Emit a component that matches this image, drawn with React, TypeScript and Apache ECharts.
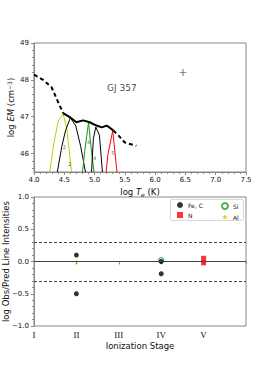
import React, { useEffect, useRef } from "react";
import * as echarts from "echarts";

// ---- Top panel: emission measure distribution ----
const emDashedLow: number[][] = [[4.0, 48.14], [4.15, 48.0], [4.29, 47.8], [4.37, 47.5], [4.48, 47.1]];
const emSolid: number[][] = [[4.48, 47.1], [4.59, 46.99], [4.7, 46.85], [4.81, 46.9], [4.92, 46.85], [5.03, 46.76], [5.12, 46.71], [5.2, 46.76], [5.31, 46.63]];
const emDashedHigh: number[][] = [[5.31, 46.63], [5.4, 46.48], [5.5, 46.3], [5.69, 46.21]];
const curveAlII: number[][] = [[4.26, 45.5], [4.33, 46.3], [4.4, 46.88], [4.48, 47.08], [4.54, 46.69], [4.58, 46.1], [4.62, 45.5]];
const curveBlackII: number[][] = [[4.385, 45.5], [4.46, 46.2], [4.52, 46.62], [4.6, 46.97], [4.69, 46.75], [4.77, 46.2], [4.85, 45.5]];
const curveSiIV: number[][] = [[4.8, 45.5], [4.84, 46.1], [4.9, 46.84], [4.94, 46.2], [4.99, 45.5]];
const curveBlackIV: number[][] = [[4.95, 45.5], [4.98, 46.4], [5.02, 46.72], [5.08, 46.5], [5.13, 45.5]];
const curveNV: number[][] = [[5.19, 45.5], [5.22, 45.97], [5.3, 46.62], [5.37, 45.5]];
const stageLabels: (number | string)[][] = [[4.5, 46.17, "2"], [4.59, 45.73, "2"], [4.9, 46.32, "4"], [5.0, 45.89, "4"], [5.3, 46.02, "5"]];
const crossPoint: number[][] = [[6.46, 48.2]];
const starName: (number | string)[][] = [[5.45, 47.78, "GJ 357"]];
const topYTicks = [46, 47, 48, 49];

// ---- Bottom panel: obs/pred ratios ----
const stageNames = ["I", "II", "III", "IV", "V", ""];
const feC: number[][] = [[1, 0.1], [1, -0.5], [3, 0.0], [3, -0.19]];
const nV: number[][] = [[4, 0.05], [4, -0.02]];
const si: number[][] = [[3, 0.02]];
const al: number[][] = [[1, 0.0]];
const refLines = [0.3, 0.0, -0.3];

const SANS = "DejaVu Sans";
const AX = "#888";
const TXT = "#111";
const STAR = "path://M50,0 L61,35 L98,35 L68,57 L79,91 L50,70 L21,91 L32,57 L2,35 L39,35 Z";
const CROSS = "path://M0,4.5 L10,4.5 L10,5.5 L0,5.5 Z M4.5,0 L5.5,0 L5.5,10 L4.5,10 Z";

function minorVals(min: number, max: number, step: number, major: number): number[] {
  const out: number[] = [];
  const n = Math.round((max - min) / step);
  for (let i = 0; i <= n; i++) {
    const v = +(min + i * step).toFixed(3);
    if (Math.abs(v / major - Math.round(v / major)) > 1e-6) out.push(v);
  }
  return out;
}

export default function App() {
  const ref = useRef<HTMLDivElement>(null);
  useEffect(() => {
    if (!ref.current) return;
    const chart = echarts.init(ref.current, undefined, { renderer: "svg" });
    const curve = (data: number[][], color: string) => ({
      type: "line", xAxisIndex: 0, yAxisIndex: 0, data, showSymbol: false, symbol: "none",
      lineStyle: { color, width: 1 }, z: 2,
    });
    const option: any = {
      animation: false,
      backgroundColor: "#fff",
      textStyle: { fontFamily: SANS },
      grid: [
        { left: 34, top: 43, width: 212, height: 129, show: true, borderColor: AX, borderWidth: 1, backgroundColor: "transparent", containLabel: false, outerBoundsMode: "none" },
        { left: 34, top: 197, width: 212, height: 129, show: true, borderColor: AX, borderWidth: 1, backgroundColor: "transparent", containLabel: false, outerBoundsMode: "none" },
      ],
      xAxis: [
        {
          type: "value", gridIndex: 0, min: 4, max: 7.5, interval: 0.5,
          axisLine: { lineStyle: { color: AX } },
          axisTick: { length: 3, lineStyle: { color: AX } },
          minorTick: { show: true, splitNumber: 5, length: 2, lineStyle: { color: AX } },
          splitLine: { show: false },
          axisLabel: { fontSize: 7, color: TXT, margin: 4, formatter: (v: number) => v.toFixed(1) },
          name: "{n|log }{i|T}{s|e}{n| (K)}", nameLocation: "middle", nameGap: 15, nameMoveOverlap: false,
          nameTextStyle: { rich: { n: { fontSize: 8.5, color: TXT }, i: { fontSize: 8.5, fontStyle: "italic", color: TXT }, s: { fontSize: 6, fontStyle: "italic", color: TXT, verticalAlign: "bottom", padding: [4, 0, 0, 0] } } },
        },
        {
          type: "value", gridIndex: 1, min: 0, max: 5, interval: 1,
          axisLine: { lineStyle: { color: AX } },
          axisTick: { length: 3, lineStyle: { color: AX } },
          splitLine: { show: false },
          axisLabel: { fontSize: 9, color: TXT, margin: 4, fontFamily: "Liberation Serif", formatter: (v: number) => stageNames[Math.round(v)] ?? "" },
          name: "Ionization Stage", nameLocation: "middle", nameGap: 15, nameMoveOverlap: false,
          nameTextStyle: { fontSize: 8.5, color: TXT },
        },
      ],
      yAxis: [
        {
          type: "value", gridIndex: 0, min: 45.5, max: 49,
          axisLine: { show: true, lineStyle: { color: AX } },
          axisTick: { show: true, length: 3, customValues: topYTicks, lineStyle: { color: AX } },
          axisLabel: { fontSize: 7, color: TXT, margin: 5, customValues: topYTicks, formatter: (v: number) => String(v) },
          splitLine: { show: false },
          name: "{n|log }{i|EM}{n| (cm}{p|−3}{n|)}", nameLocation: "middle", nameGap: 18, nameMoveOverlap: false,
          nameTextStyle: { rich: { n: { fontSize: 8.5, color: TXT }, i: { fontSize: 8.5, fontStyle: "italic", color: TXT }, p: { fontSize: 6, color: TXT, verticalAlign: "top", padding: [0, 0, 4, 0] } } },
        },
        {
          type: "value", gridIndex: 0, min: 45.5, max: 49, position: "left",
          axisLine: { show: false },
          axisTick: { show: true, length: 2, customValues: minorVals(45.6, 48.8, 0.2, 1), lineStyle: { color: AX } },
          axisLabel: { show: false },
          splitLine: { show: false },
        },
        {
          type: "value", gridIndex: 1, min: -1, max: 1, interval: 0.5,
          axisLine: { show: true, lineStyle: { color: AX } },
          axisTick: { length: 3, lineStyle: { color: AX } },
          minorTick: { show: true, splitNumber: 5, length: 2, lineStyle: { color: AX } },
          splitLine: { show: false },
          axisLabel: { fontSize: 7, color: TXT, margin: 5, formatter: (v: number) => (v < 0 ? "\u2212" + Math.abs(v).toFixed(1) : v.toFixed(1)) },
          name: "log Obs/Pred Line Intensities", nameLocation: "middle", nameGap: 24, nameMoveOverlap: false,
          nameTextStyle: { fontSize: 8.5, color: TXT },
        },
      ],
      legend: [
        {
          left: 177, top: 202, orient: "vertical", padding: 0, itemWidth: 6, itemHeight: 6, itemGap: 4,
          data: ["Fe, C", "N"], textStyle: { fontSize: 6, color: TXT, lineHeight: 6 }, z: 10,
        },
        {
          left: 221, top: 202, orient: "vertical", padding: 0, itemWidth: 6, itemHeight: 6, itemGap: 4,
          data: ["Si", "Al"], textStyle: { fontSize: 6, color: TXT, lineHeight: 6 }, z: 10,
        },
      ],
      graphic: [
        { type: "rect", left: 170, top: 199, shape: { width: 73, height: 21, r: 1.5 }, style: { fill: "#fff", stroke: "#ccc", lineWidth: 0.8 }, z: 5 },
      ],
      series: [
        curve(curveAlII, "#c8c800"),
        curve(curveBlackII, "#000"),
        curve(curveSiIV, "#119911"),
        curve(curveBlackIV, "#000"),
        curve(curveNV, "#ff0000"),
        {
          type: "line", xAxisIndex: 0, yAxisIndex: 0, data: emDashedLow, symbol: "none",
          lineStyle: { color: "#000", width: 2, type: [4, 3] }, z: 3,
        },
        {
          type: "line", xAxisIndex: 0, yAxisIndex: 0, data: emSolid, symbol: "none",
          lineStyle: { color: "#000", width: 2 }, z: 3,
        },
        {
          type: "line", xAxisIndex: 0, yAxisIndex: 0, data: emDashedHigh, symbol: "none",
          lineStyle: { color: "#000", width: 2, type: [4, 3] }, z: 3,
        },
        {
          type: "scatter", xAxisIndex: 0, yAxisIndex: 0, data: crossPoint, symbol: CROSS, symbolSize: 7,
          itemStyle: { color: "#000" },
        },
        {
          type: "scatter", xAxisIndex: 0, yAxisIndex: 0, data: stageLabels, symbolSize: 0,
          label: { show: true, position: "inside", fontSize: 5, color: "#333", formatter: (p: any) => p.data[2] },
        },
        {
          type: "scatter", xAxisIndex: 0, yAxisIndex: 0, data: starName, symbolSize: 0,
          label: { show: true, position: "inside", fontSize: 9, color: TXT, formatter: (p: any) => p.data[2] },
        },
        {
          type: "line", xAxisIndex: 1, yAxisIndex: 2, data: [], symbol: "none",
          markLine: {
            silent: true, symbol: "none", label: { show: false },
            data: refLines.map((v) => ({
              yAxis: v,
              lineStyle: v === 0 ? { color: "#444", width: 1, type: "solid" } : { color: "#444", width: 1, type: [3, 2] },
            })),
          },
        },
        {
          name: "Si", type: "scatter", xAxisIndex: 1, yAxisIndex: 2, data: si, symbol: "circle", symbolSize: 5,
          itemStyle: { color: "#fff", borderColor: "#2a9a2a", borderWidth: 1.2 }, z: 3,
        },
        {
          name: "Fe, C", type: "scatter", xAxisIndex: 1, yAxisIndex: 2, data: feC, symbol: "circle", symbolSize: 5,
          itemStyle: { color: "#000" }, z: 4,
        },
        {
          name: "N", type: "scatter", xAxisIndex: 1, yAxisIndex: 2, data: nV, symbol: "rect", symbolSize: 5,
          itemStyle: { color: "#ff0000" }, z: 3,
        },
        {
          name: "Al", type: "scatter", xAxisIndex: 1, yAxisIndex: 2, data: al, symbol: STAR, symbolSize: 5,
          itemStyle: { color: "#c8c800" }, z: 4,
        },
      ],
    };
    chart.setOption(option);
    return () => chart.dispose();
  }, []);
  return <div ref={ref} style={{ position: "absolute", left: 0, top: 0, width: 274, height: 366 }} />;
}
